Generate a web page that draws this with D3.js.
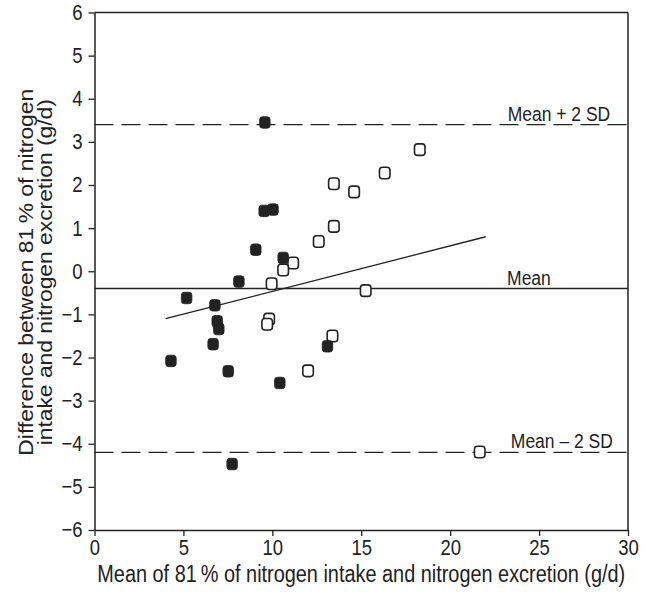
<!DOCTYPE html>
<html>
<head>
<meta charset="utf-8">
<script src="https://cdn.jsdelivr.net/npm/d3@7"></script>
<style>
  body { margin: 0; background: #fff; }
  text { font-family: "Liberation Sans", Arial, sans-serif; fill: #222; }
</style>
</head>
<body>
<div id="container"></div>
<script>
// Data.
const filledX = [9.58, 9.54, 10.04, 9.07, 10.61, 8.12, 5.18, 6.77, 6.90, 6.99, 6.67, 4.30, 7.52, 10.42, 13.10, 7.74];
const filledY = [3.45, 1.40, 1.43, 0.50, 0.31, -0.24, -0.62, -0.79, -1.16, -1.34, -1.69, -2.08, -2.32, -2.59, -1.74, -4.47];
const openX = [18.29, 16.32, 13.46, 14.60, 13.46, 12.61, 11.17, 10.61, 9.96, 15.25, 9.82, 9.71, 13.38, 12.01, 21.66];
const openY = [2.82, 2.28, 2.03, 1.84, 1.04, 0.69, 0.19, 0.03, -0.29, -0.45, -1.11, -1.23, -1.50, -2.31, -4.19];
const meanValue = -0.4;
const upperLimit = 3.4;
const lowerLimit = -4.2;
const regressionX = [4.0, 22.0];
const regressionY = [-1.1, 0.8];
const xTicks = [0, 5, 10, 15, 20, 25, 30];
const yTicks = [-6, -5, -4, -3, -2, -1, 0, 1, 2, 3, 4, 5, 6];

const width = 646, height = 595;
const margin = { left: 94.5, right: 18, top: 12.5, bottom: 65 };
const stretch = 1.17; // the source picture is a bit taller than wide

const svg = d3.select('#container')
    .append('svg')
    .attr('width', width)
    .attr('height', height);

const x = d3.scaleLinear().domain([0, 30]).range([margin.left, width - margin.right]);
const y = d3.scaleLinear().domain([-6, 6]).range([height - margin.bottom, margin.top]);

const ink = '#222';

// Frame (top and right)
svg.append('line')
    .attr('x1', x(0)).attr('x2', x(30))
    .attr('y1', y(6)).attr('y2', y(6))
    .attr('stroke', ink).attr('stroke-width', 1.5);
svg.append('line')
    .attr('x1', x(30)).attr('x2', x(30))
    .attr('y1', y(6)).attr('y2', y(-6))
    .attr('stroke', ink).attr('stroke-width', 1.5);

// Axes
const xAxis = svg.append('g')
    .attr('transform', `translate(0,${y(-6)})`)
    .call(d3.axisBottom(x).tickValues(xTicks).tickSize(6).tickSizeOuter(0));
const yAxis = svg.append('g')
    .attr('transform', `translate(${x(0)},0)`)
    .call(d3.axisLeft(y).tickValues(yTicks).tickSize(6).tickSizeOuter(0));

[xAxis, yAxis].forEach(g => {
    g.select('.domain').attr('stroke', ink).attr('stroke-width', 1.5);
    g.selectAll('.tick line').attr('stroke', ink).attr('stroke-width', 1.3);
    g.selectAll('.tick text')
        .attr('font-size', 18.5)
        .attr('fill', ink)
        .style('font-family', '"Liberation Sans", Arial, sans-serif');
});
xAxis.selectAll('.tick text')
    .attr('y', 25 / stretch).attr('dy', 0)
    .attr('transform', `scale(1,${stretch})`);
yAxis.selectAll('.tick text')
    .attr('x', -12)
    .attr('transform', `scale(1,${stretch})`);

// Reference lines
svg.append('line')
    .attr('x1', x(0)).attr('x2', x(30))
    .attr('y1', y(meanValue)).attr('y2', y(meanValue))
    .attr('stroke', ink).attr('stroke-width', 1.4);
[upperLimit, lowerLimit].forEach(v => {
    svg.append('line')
        .attr('x1', x(0)).attr('x2', x(30))
        .attr('y1', y(v)).attr('y2', y(v))
        .attr('stroke', ink).attr('stroke-width', 1.4)
        .attr('stroke-dasharray', '19,8');
});

// Regression line
svg.append('line')
    .attr('x1', x(regressionX[0])).attr('x2', x(regressionX[1]))
    .attr('y1', y(regressionY[0])).attr('y2', y(regressionY[1]))
    .attr('stroke', ink).attr('stroke-width', 1.3);

// Labels
const addLabel = (px, py, anchor, label) => {
    svg.append('text')
        .attr('transform', `translate(${px},${py}) scale(1,${stretch})`)
        .attr('text-anchor', anchor).attr('font-size', 17.5)
        .text(label);
};
addLabel(x(29), y(upperLimit) - 4, 'end', 'Mean + 2 SD');
addLabel(x(23.2), y(meanValue) - 4, 'start', 'Mean');
addLabel(x(29.15), y(lowerLimit) - 4.5, 'end', 'Mean \u2013 2 SD');

// Points
const sqW = 10.5, sqH = 11.5;
const filledPts = filledX.map((d, i) => ({ x: d, y: filledY[i] }));
const openPts = openX.map((d, i) => ({ x: d, y: openY[i] }));

svg.selectAll('rect.open')
    .data(openPts)
    .enter()
    .append('rect')
    .attr('class', 'open')
    .attr('x', d => x(d.x) - sqW / 2)
    .attr('y', d => y(d.y) - sqH / 2)
    .attr('width', sqW).attr('height', sqH)
    .attr('rx', 3).attr('ry', 3)
    .attr('fill', '#fff')
    .attr('stroke', ink).attr('stroke-width', 1.6);

svg.selectAll('rect.filled')
    .data(filledPts)
    .enter()
    .append('rect')
    .attr('class', 'filled')
    .attr('x', d => x(d.x) - sqW / 2)
    .attr('y', d => y(d.y) - sqH / 2)
    .attr('width', sqW).attr('height', sqH)
    .attr('rx', 3).attr('ry', 3)
    .attr('fill', ink)
    .attr('stroke', ink).attr('stroke-width', 0.8);

// Axis titles
svg.append('text')
    .attr('transform', `translate(${(x(0) + x(30)) / 2},582) scale(1,${stretch})`)
    .attr('text-anchor', 'middle').attr('font-size', 19.9)
    .text('Mean of 81\u2009% of nitrogen intake and nitrogen excretion (g/d)');

const yTitle = svg.append('text')
    .attr('transform', `translate(0,${y(0) + 1}) rotate(-90) scale(${stretch},1)`)
    .attr('text-anchor', 'middle').attr('font-size', 19.5);
yTitle.append('tspan').attr('x', 0).attr('y', 33.5)
    .text('Difference between 81\u2009% of nitrogen');
yTitle.append('tspan').attr('x', 0).attr('y', 52)
    .text('intake and nitrogen excretion (g/d)');
</script>
</body>
</html>
